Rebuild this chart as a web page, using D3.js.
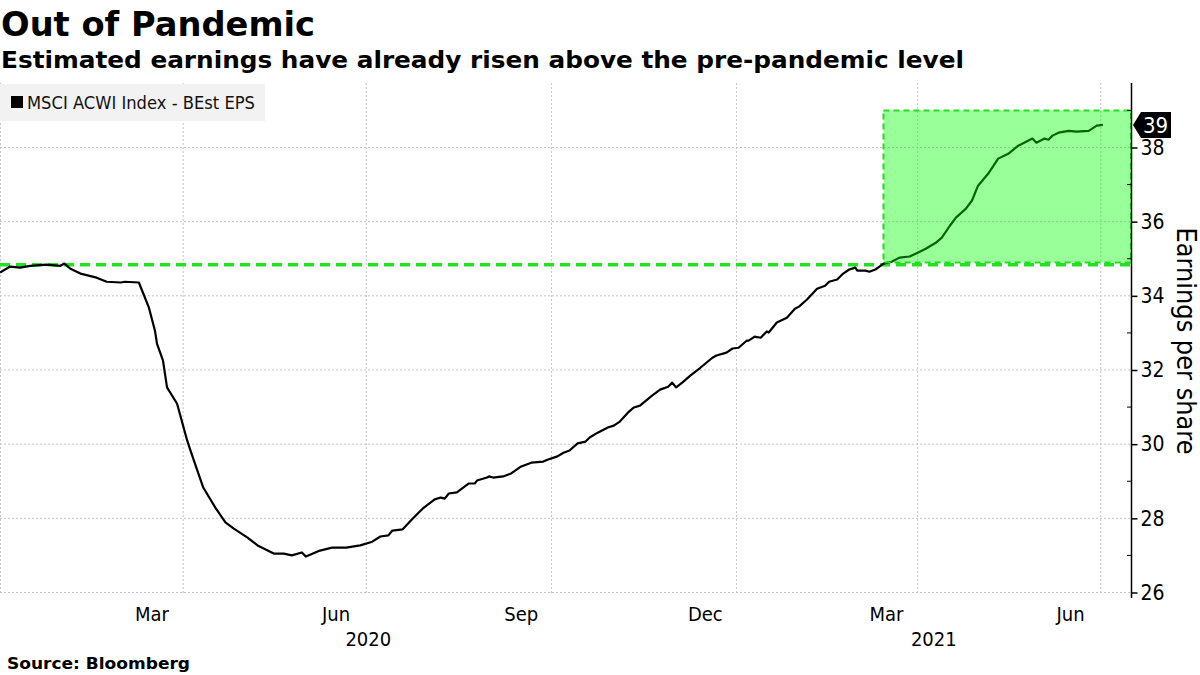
<!DOCTYPE html>
<html>
<head>
<meta charset="utf-8">
<script src="https://cdn.jsdelivr.net/npm/d3@7"></script>
<style>
  html, body { margin: 0; padding: 0; background: #fff; }
  svg { display: block; }
</style>
</head>
<body>
<svg id="chart" width="1200" height="675"></svg>
<script>
// ---------------- DATA ----------------
const dates = [
  "2020-01-01","2020-01-06","2020-01-11","2020-01-16","2020-01-24","2020-01-31","2020-02-02","2020-02-05",
  "2020-02-10","2020-02-18","2020-02-23","2020-03-01","2020-03-03","2020-03-10","2020-03-12","2020-03-15",
  "2020-03-18","2020-03-19","2020-03-22","2020-03-24","2020-03-29","2020-04-03","2020-04-05","2020-04-11",
  "2020-04-17","2020-04-22","2020-04-26","2020-05-03","2020-05-08","2020-05-16","2020-05-21","2020-05-25",
  "2020-05-30","2020-06-01","2020-06-08","2020-06-14","2020-06-21","2020-06-28","2020-07-04","2020-07-08",
  "2020-07-12","2020-07-14","2020-07-19","2020-07-24","2020-07-29","2020-08-04","2020-08-07","2020-08-09",
  "2020-08-11","2020-08-15","2020-08-21","2020-08-24","2020-08-25","2020-08-30","2020-08-31","2020-09-02",
  "2020-09-07","2020-09-11","2020-09-16","2020-09-21","2020-09-27","2020-09-29","2020-10-04","2020-10-07",
  "2020-10-10","2020-10-14","2020-10-18","2020-10-20","2020-10-24","2020-10-29","2020-11-01","2020-11-04",
  "2020-11-08","2020-11-11","2020-11-14","2020-11-20","2020-11-24","2020-11-28","2020-11-30","2020-12-02",
  "2020-12-05","2020-12-09","2020-12-14","2020-12-20","2020-12-22","2020-12-27","2020-12-30","2021-01-02",
  "2021-01-06","2021-01-07","2021-01-10","2021-01-13","2021-01-16","2021-01-17","2021-01-21","2021-01-26",
  "2021-01-30","2021-02-01","2021-02-05","2021-02-10","2021-02-14","2021-02-16","2021-02-20","2021-02-23",
  "2021-02-26","2021-03-01","2021-03-02","2021-03-06","2021-03-08","2021-03-11","2021-03-13","2021-03-15",
  "2021-03-19","2021-03-23","2021-03-28","2021-04-01","2021-04-05","2021-04-10","2021-04-13","2021-04-17",
  "2021-04-20","2021-04-25","2021-04-28","2021-05-01","2021-05-06","2021-05-11","2021-05-16","2021-05-21",
  "2021-05-28","2021-05-30","2021-06-03","2021-06-05","2021-06-07","2021-06-10","2021-06-15","2021-06-19",
  "2021-06-25","2021-06-29","2021-07-02"
];
const eps = [
  34.63,34.79,34.76,34.81,34.84,34.81,34.87,34.73,
  34.60,34.49,34.38,34.36,34.38,34.36,34.09,33.68,
  33.06,32.71,32.25,31.53,31.09,30.10,29.77,28.83,
  28.29,27.89,27.73,27.48,27.27,27.05,27.05,27.00,
  27.08,26.97,27.13,27.21,27.21,27.27,27.37,27.51,
  27.54,27.67,27.70,27.99,28.26,28.51,28.56,28.53,
  28.67,28.70,28.94,28.94,29.02,29.10,29.13,29.10,
  29.13,29.21,29.40,29.50,29.53,29.58,29.67,29.77,
  29.83,30.02,30.07,30.18,30.31,30.45,30.50,30.61,
  30.85,30.99,31.04,31.31,31.47,31.55,31.66,31.53,
  31.66,31.85,32.06,32.33,32.39,32.47,32.58,32.60,
  32.79,32.79,32.90,32.87,33.04,33.01,33.28,33.41,
  33.65,33.71,33.90,34.19,34.27,34.38,34.44,34.60,
  34.71,34.76,34.68,34.68,34.65,34.71,34.79,34.87,
  34.92,35.03,35.06,35.16,35.27,35.43,35.57,35.89,
  36.11,36.35,36.57,36.97,37.29,37.70,37.83,38.05,
  38.24,38.13,38.24,38.21,38.32,38.40,38.45,38.43,
  38.45,38.59,38.61
];
const monthTicks = ["2020-04-01","2020-07-01","2020-10-01","2021-01-01","2021-04-01","2021-07-01"];
const monthLabels = ["Mar","Jun","Sep","Dec","Mar","Jun"];
const yearStarts = ["2020-01-01","2021-01-01"];
const yearLabels = ["2020","2021"];
const yTicks = [26,28,30,32,34,36,38];
const yMinorTicks = [27,29,31,33,35,37,39];
const preLevel = 34.84;
const boxStart = "2021-03-15";
const boxTop = 39.0;
const boxBottom = 34.9;
const seriesName = "MSCI ACWI Index - BEst EPS";

// ---------------- LAYOUT ----------------
const parse = d3.utcParse("%Y-%m-%d");
const svg = d3.select("#chart");
const plotLeft = 0, plotRight = 1131, plotTop = 83, plotBottom = 593;
const domainStart = parse("2020-01-01"), domainEnd = parse("2021-07-16");

const x = d3.scaleUtc().domain([domainStart, domainEnd]).range([plotLeft, plotRight]);
const y = d3.scaleLinear().domain([26, 38]).range([592.5, 147.5]);

const fontC = "'DejaVu Sans Condensed', 'DejaVu Sans', sans-serif";
const fontB = "'DejaVu Sans', sans-serif";

// Title
svg.append("text").attr("x", 1).attr("y", 36).text("Out of Pandemic")
  .attr("textLength", 314).attr("lengthAdjust", "spacingAndGlyphs")
  .style("font-family", fontB).style("font-weight", "bold").style("font-size", "33px").attr("fill", "#000");
svg.append("text").attr("x", 1).attr("y", 68).text("Estimated earnings have already risen above the pre-pandemic level")
  .attr("textLength", 963).attr("lengthAdjust", "spacingAndGlyphs")
  .style("font-family", fontB).style("font-weight", "bold").style("font-size", "23px").attr("fill", "#000");

// Gridlines horizontal
const gridColor = "#c4c4c4";
svg.append("g").selectAll("line").data(yTicks).join("line")
  .attr("x1", plotLeft).attr("x2", plotRight)
  .attr("y1", d => y(d)).attr("y2", d => y(d))
  .attr("stroke", gridColor).attr("stroke-width", 1).attr("stroke-dasharray", "2,2");
// vertical gridlines
svg.append("g").selectAll("line").data(monthTicks.map(parse)).join("line")
  .attr("x1", d => x(d)).attr("x2", d => x(d))
  .attr("y1", plotTop).attr("y2", plotBottom)
  .attr("stroke", gridColor).attr("stroke-width", 1).attr("stroke-dasharray", "2,2");
svg.append("line").attr("x1", 0.5).attr("x2", 0.5).attr("y1", plotTop).attr("y2", plotBottom)
  .attr("stroke", gridColor).attr("stroke-dasharray", "2,2");

// Legend
const lg = svg.append("g");
lg.append("rect").attr("x", 0).attr("y", 84).attr("width", 265).attr("height", 37).attr("fill", "#f2f2f2");
lg.append("rect").attr("x", 11).attr("y", 96).attr("width", 12).attr("height", 12).attr("fill", "#000");
lg.append("text").attr("x", 27).attr("y", 109).text(seriesName)
  .attr("textLength", 228).attr("lengthAdjust", "spacingAndGlyphs")
  .style("font-family", fontC).style("font-size", "18px").attr("fill", "#111");

// Pre-pandemic dashed level
svg.append("line").attr("x1", plotLeft).attr("x2", plotRight)
  .attr("y1", y(preLevel)).attr("y2", y(preLevel))
  .attr("stroke", "#22e022").attr("stroke-width", 3.5).attr("stroke-dasharray", "10,6");

// Line
const data = dates.map((d, i) => ({ date: parse(d), v: eps[i] }));
const line = d3.line().x(d => x(d.date)).y(d => y(d.v));
svg.append("path").datum(data).attr("d", line)
  .attr("fill", "none").attr("stroke", "#000").attr("stroke-width", 2.2).attr("stroke-linejoin", "round");

// Highlight box (drawn over the line, translucent)
const bx = x(parse(boxStart));
svg.append("rect").attr("x", bx).attr("y", y(boxTop))
  .attr("width", plotRight - bx).attr("height", y(boxBottom) - y(boxTop))
  .attr("fill", "rgba(0,255,0,0.4)")
  .attr("stroke", "#22dd22").attr("stroke-width", 2).attr("stroke-dasharray", "6,4");

// Right axis
const ax = svg.append("g");
ax.append("line").attr("x1", plotRight + 0.5).attr("x2", plotRight + 0.5).attr("y1", plotTop).attr("y2", 598)
  .attr("stroke", "#000").attr("stroke-width", 1.5);
const yAxis = d3.axisRight(y).tickValues(yTicks).tickSize(6).tickPadding(3).tickFormat(d3.format("d"));
const yg = svg.append("g").attr("transform", `translate(${plotRight + 0.5},0)`).call(yAxis);
yg.select(".domain").remove();
yg.selectAll("text").style("font-family", fontC).style("font-size", "21px").attr("fill", "#000");
yg.selectAll("line").attr("stroke", "#000").attr("stroke-width", 1.5);
svg.append("g").selectAll("line").data(yMinorTicks).join("line")
  .attr("x1", plotRight - 4).attr("x2", plotRight)
  .attr("y1", d => y(d)).attr("y2", d => y(d))
  .attr("stroke", "#000").attr("stroke-width", 1);

// Last value tag
const last = data[data.length - 1];
const ly = y(last.v);
svg.append("path")
  .attr("d", `M${plotRight + 2},${ly} L${plotRight + 10},${ly - 13} L${plotRight + 40},${ly - 13} L${plotRight + 40},${ly + 13} L${plotRight + 10},${ly + 13} Z`)
  .attr("fill", "#000");
svg.append("text").attr("x", plotRight + 12).attr("y", ly + 8).text(d3.format(".0f")(last.v))
  .style("font-family", fontC).style("font-size", "22px").attr("fill", "#fff");

// Y-axis title
svg.append("text")
  .attr("transform", `translate(1177, 341) rotate(90)`)
  .attr("text-anchor", "middle").text("Earnings per share")
  .attr("textLength", 227).attr("lengthAdjust", "spacingAndGlyphs")
  .style("font-family", fontC).style("font-size", "26px").attr("fill", "#000");

// X axis labels (month labels centred on the month before each boundary tick)
const mt = monthTicks.map(parse);
svg.append("g").selectAll("text").data(mt).join("text")
  .attr("x", d => (x(d3.utcMonth.offset(d, -1)) + x(d)) / 2)
  .attr("y", 621).attr("text-anchor", "middle")
  .text((d, i) => monthLabels[i])
  .style("font-family", fontC).style("font-size", "20px").attr("fill", "#000");
const ys = yearStarts.map(parse);
svg.append("g").selectAll("text").data(ys).join("text")
  .attr("x", (d, i) => (x(d) + (i < ys.length - 1 ? x(ys[i + 1]) : plotRight)) / 2)
  .attr("y", 646).attr("text-anchor", "middle")
  .text((d, i) => yearLabels[i])
  .style("font-family", fontC).style("font-size", "20px").attr("fill", "#000");

// Source
svg.append("text").attr("x", 7).attr("y", 669).text("Source: Bloomberg")
  .attr("textLength", 183).attr("lengthAdjust", "spacingAndGlyphs")
  .style("font-family", fontB).style("font-weight", "bold").style("font-size", "16px").attr("fill", "#000");
</script>
</body>
</html>
